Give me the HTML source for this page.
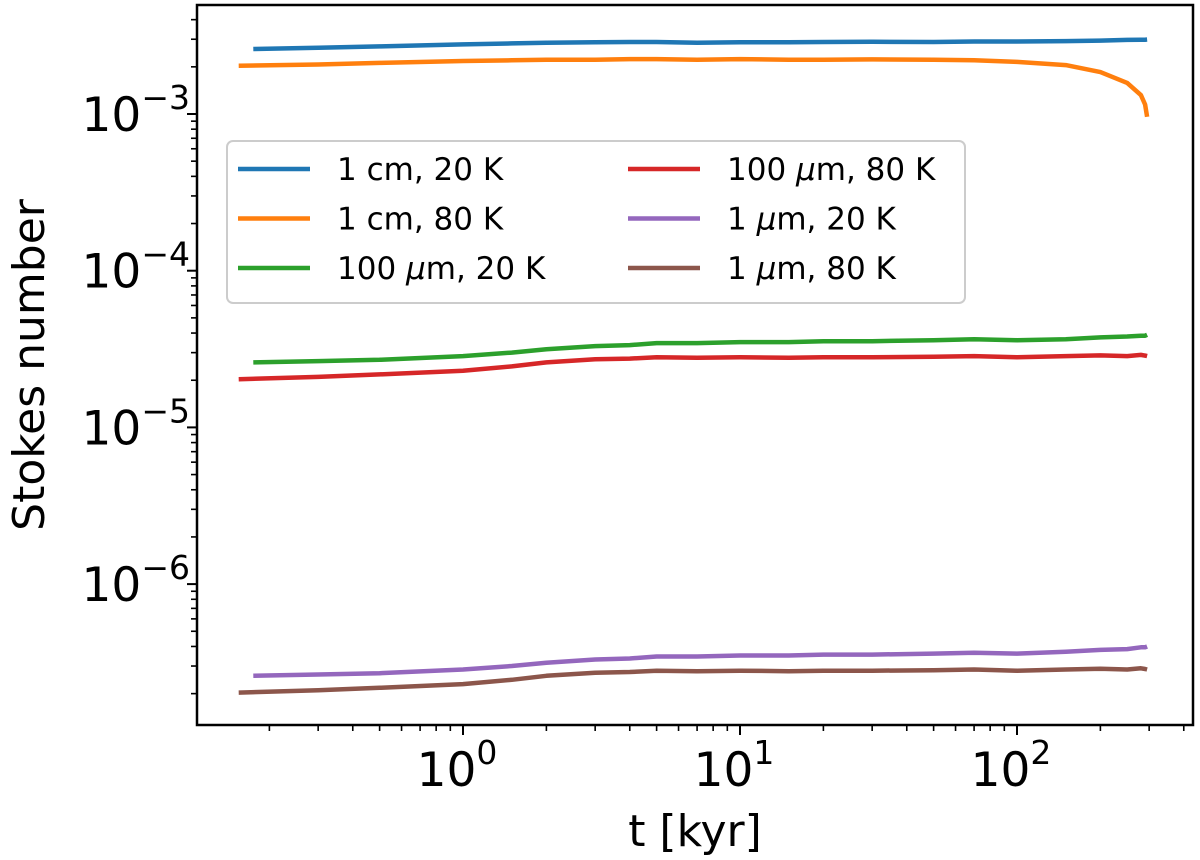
<!DOCTYPE html>
<html><head><meta charset="utf-8"><style>
html,body{margin:0;padding:0;background:#fff;}
svg{display:block;font-family:"DejaVu Sans","Liberation Sans",sans-serif;}
</style></head><body>
<svg id="chart" width="1200" height="860" viewBox="0 0 1200 860" xmlns="http://www.w3.org/2000/svg"></svg>
<script>
const times80 = [0.155,0.3,0.5,1,1.5,2,3,4,5,7,10,15,20,30,50,70,100,150,200,250,280,290,295];
const times20 = [0.175,0.3,0.5,1,1.5,2,3,4,5,7,10,15,20,30,50,70,100,150,200,250,280,290,295];
const blue   = [2.6,2.65,2.7,2.78,2.82,2.85,2.87,2.88,2.88,2.85,2.87,2.87,2.88,2.89,2.88,2.9,2.9,2.92,2.94,2.97,2.98,2.98,2.99];
const orange = [2.03,2.07,2.12,2.18,2.2,2.22,2.22,2.24,2.24,2.22,2.24,2.22,2.22,2.23,2.22,2.2,2.15,2.05,1.85,1.58,1.32,1.15,0.96];
const green  = [2.6,2.65,2.7,2.85,3.0,3.15,3.3,3.35,3.45,3.45,3.5,3.5,3.55,3.55,3.6,3.65,3.6,3.65,3.75,3.8,3.85,3.85,3.9];
const red    = [2.03,2.1,2.18,2.3,2.45,2.6,2.72,2.75,2.8,2.78,2.8,2.78,2.8,2.8,2.82,2.85,2.8,2.85,2.88,2.85,2.9,2.87,2.85];
const purple = [2.6,2.65,2.7,2.85,3.0,3.15,3.3,3.35,3.45,3.45,3.5,3.5,3.55,3.55,3.6,3.65,3.6,3.7,3.8,3.85,3.95,3.95,4.0];
const brown  = [2.03,2.1,2.18,2.3,2.45,2.6,2.72,2.75,2.8,2.78,2.8,2.78,2.8,2.8,2.82,2.85,2.8,2.85,2.88,2.85,2.9,2.87,2.85];
const seriesScale = [1e-3,1e-3,1e-5,1e-5,1e-7,1e-7];
const seriesLabels = ["1 cm, 20 K","1 cm, 80 K","100 μm, 20 K","100 μm, 80 K","1 μm, 20 K","1 μm, 80 K"];
const xTickExps = [0,1,2];
const yTickExps = [-3,-4,-5,-6];

const NS="http://www.w3.org/2000/svg";
const svg=document.getElementById('chart');
const L=197,R=1193,T=5,B=725;
const x0=463, xd=277, y3=114, yd=156.7;
function xs(t){return x0+xd*Math.log10(t);}
function ys(v){return y3-yd*(Math.log10(v)+3);}
function mk(tag,attrs,parent){const e=document.createElementNS(NS,tag);for(const k in attrs)e.setAttribute(k,attrs[k]);(parent||svg).appendChild(e);return e;}

const colors=["#1f77b4","#ff7f0e","#2ca02c","#d62728","#9467bd","#8c564b"];
const data=[blue,orange,green,red,purple,brown];
const tms=[times20,times80,times20,times80,times20,times80];
const names=["series-1cm-20k","series-1cm-80k","series-100um-20k","series-100um-80k","series-1um-20k","series-1um-80k"];

const clip=mk('clipPath',{id:'pc'});mk('rect',{x:L,y:T,width:R-L,height:B-T},clip);
const g=mk('g',{'clip-path':'url(#pc)'});
data.forEach((arr,i)=>{
  const d=arr.map((v,j)=>(j?'L':'M')+xs(tms[i][j]).toFixed(1)+','+ys(v*seriesScale[i]).toFixed(1)).join(' ');
  const p=mk('path',{d:d,fill:'none',stroke:colors[i],'stroke-width':4.5,'stroke-linejoin':'round'},g);
  
  
});

const fr=mk('rect',{x:L,y:T,width:R-L,height:B-T,fill:'none',stroke:'#000','stroke-width':2.5});



for(let e=-1;e<=2;e++){for(let m=1;m<10;m++){const t=m*Math.pow(10,e);const x=xs(t);if(x<L||x>R)continue;
  mk('line',{x1:x,y1:B,x2:x,y2:B+(m==1?10:6),stroke:'#000','stroke-width':m==1?2:1.6});}}
xTickExps.forEach(e=>{
  const tx=mk('text',{x:xs(Math.pow(10,e))-6,y:786,'font-size':47,'text-anchor':'middle'});
  
  
  tx.innerHTML='10<tspan dy="-22" font-size="33">'+e+'</tspan>';
});
for(let e=-7;e<=-2;e++){for(let m=1;m<10;m++){const v=m*Math.pow(10,e);const y=ys(v);if(y<T||y>B)continue;
  mk('line',{x1:L,y1:y,x2:L-(m==1?10:6),y2:y,stroke:'#000','stroke-width':m==1?2:1.6});}}
yTickExps.forEach(e=>{
  const tx=mk('text',{x:190,y:ys(Math.pow(10,e))+17,'font-size':47,'text-anchor':'end'});
  
  
  tx.innerHTML='10<tspan dy="-22" font-size="33">−'+(-e)+'</tspan>';
});
const xl=mk('text',{x:695,y:846,'font-size':44,'text-anchor':'middle'});xl.textContent='t [kyr]';


const yl=mk('text',{x:0,y:0,'font-size':44,'text-anchor':'middle',transform:'translate(44,365) rotate(-90)'});yl.textContent='Stokes number';



const lg=mk('g',{});


mk('rect',{x:227,y:141,width:738,height:162,rx:6,fill:'#fff','fill-opacity':0.85,stroke:'#ccc','stroke-width':2},lg);
seriesLabels.forEach((lab,i)=>{
  const col=Math.floor(i/3),row=i%3;
  const hx=col?628:238, tx=col?727:337, y=169+row*49.5;
  const eg=mk('g',{},lg);
  
  
  mk('line',{x1:hx,y1:y,x2:hx+72,y2:y,stroke:colors[i],'stroke-width':4.5},eg);
  const t=mk('text',{x:tx,y:y+11,'font-size':31},eg);
  t.innerHTML=lab.replace('μ','<tspan font-style="italic">μ</tspan>');
});
</script>
</body></html>
